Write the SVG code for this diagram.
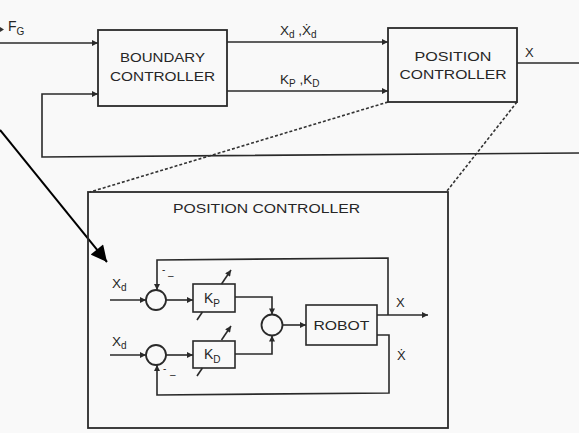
<svg xmlns="http://www.w3.org/2000/svg" width="579" height="433" viewBox="0 0 579 433">
<style>
.ln{fill:none;stroke:#2a2a2a;stroke-width:1.6}
.bx{fill:#f9f9f9;stroke:#2a2a2a;stroke-width:1.8}
.ds{fill:none;stroke:#333;stroke-width:1.6;stroke-dasharray:3 2}
.t{font-family:"Liberation Sans","DejaVu Sans",sans-serif;fill:#262626}
.bt{font-size:13px;text-anchor:middle}
.sub{font-size:10px}
</style>
<defs>
<marker id="a" viewBox="0 0 10 10" refX="10" refY="5" markerWidth="7" markerHeight="6" markerUnits="userSpaceOnUse" orient="auto"><path d="M0,0 L10,5 L0,10 z" fill="#2a2a2a"/></marker>
<marker id="big" viewBox="0 0 10 10" refX="10" refY="5" markerWidth="20" markerHeight="16" markerUnits="userSpaceOnUse" orient="auto"><path d="M0,0 L10,5 L0,10 z" fill="#000"/></marker>
</defs>
<rect x="0" y="0" width="579" height="433" fill="#f9f9f9"/>

<g id="connectors">
<polygon points="0,27 4,29.5 0,32" fill="#333"/>
<path class="ln" d="M0,43 H98" marker-end="url(#a)"/>
<path class="ln" d="M579,153 L42,157 V94 H98" marker-end="url(#a)"/>
<path class="ln" d="M227,42 H388" marker-end="url(#a)"/>
<path class="ln" d="M227,91 H388" marker-end="url(#a)"/>
<path class="ln" d="M517,63 H579"/>
<path class="ds" d="M388,102 L90,192"/>
<path class="ds" d="M517,102 L447,191"/>
<path d="M0,130 L107,262" fill="none" stroke="#000" stroke-width="2" marker-end="url(#big)"/>

<path class="ln" d="M110,300 H146" marker-end="url(#a)"/>
<path class="ln" d="M166,300 H193" marker-end="url(#a)"/>
<path class="ln" d="M235,297 H272 V314.5" marker-end="url(#a)"/>
<path class="ln" d="M110,355 H146" marker-end="url(#a)"/>
<path class="ln" d="M166,355 H193" marker-end="url(#a)"/>
<path class="ln" d="M235,354 H272 V335.5" marker-end="url(#a)"/>
<path class="ln" d="M282.5,325 H306" marker-end="url(#a)"/>
<path class="ln" d="M377,315 H428" marker-end="url(#a)"/>
<path class="ln" d="M388,315 V258 L157,260 V290" marker-end="url(#a)"/>
<path class="ln" d="M377,335 H389 V393 L157,395 V365" marker-end="url(#a)"/>
</g>

<g id="boundary-controller">
<rect class="bx" x="98" y="30" width="129" height="76"/>
<text class="t bt" x="162.5" y="62" textLength="85" lengthAdjust="spacingAndGlyphs">BOUNDARY</text>
<text class="t bt" x="162.5" y="81" textLength="105" lengthAdjust="spacingAndGlyphs">CONTROLLER</text>
</g>

<g id="position-controller">
<rect class="bx" x="388" y="28" width="129" height="74"/>
<text class="t bt" x="453" y="61" textLength="77" lengthAdjust="spacingAndGlyphs">POSITION</text>
<text class="t bt" x="453" y="79" textLength="107" lengthAdjust="spacingAndGlyphs">CONTROLLER</text>
</g>

<g id="labels-top">
<text class="t" font-size="14" x="8" y="31">F<tspan class="sub" dy="4">G</tspan></text>
<text class="t" font-size="13.5" x="280" y="35">X<tspan class="sub" dy="3">d</tspan><tspan dy="-3"> ,Ẋ</tspan><tspan class="sub" dy="3">d</tspan></text>
<text class="t" font-size="13.5" x="280" y="84">K<tspan class="sub" dy="3">P</tspan><tspan dy="-3"> ,K</tspan><tspan class="sub" dy="3">D</tspan></text>
<text class="t" font-size="13" x="525" y="57">X</text>
</g>

<g id="position-controller-detail">
<rect x="88" y="192" width="360" height="236" fill="none" stroke="#2a2a2a" stroke-width="1.8"/>
<text class="t" font-size="12" x="173" y="213" textLength="187" lengthAdjust="spacingAndGlyphs">POSITION CONTROLLER</text>
</g>

<g id="sum1">
<circle cx="156" cy="300" r="10" fill="none" stroke="#2a2a2a" stroke-width="1.8"/>
<text class="t" font-size="10"><tspan x="162" y="273">-</tspan><tspan x="168" y="279">–</tspan></text>
</g>
<g id="sum2">
<circle cx="272" cy="325" r="10.5" fill="none" stroke="#2a2a2a" stroke-width="1.8"/>
</g>
<g id="sum3">
<circle cx="156" cy="355" r="10" fill="none" stroke="#2a2a2a" stroke-width="1.8"/>
<text class="t" font-size="10"><tspan x="163" y="372">-</tspan><tspan x="170" y="378">–</tspan></text>
</g>

<g id="kp">
<rect x="193" y="284" width="42" height="28" fill="none" stroke="#2a2a2a" stroke-width="1.6"/>
<text class="t" font-size="14" x="204" y="303">K<tspan class="sub" dy="4">P</tspan></text>
<path class="ln" d="M197,320 L202.4,312"/>
<path class="ln" d="M221.5,284 L231,270" marker-end="url(#a)"/>
</g>
<g id="kd">
<rect x="193" y="341" width="42" height="27" fill="none" stroke="#2a2a2a" stroke-width="1.6"/>
<text class="t" font-size="14" x="204" y="359">K<tspan class="sub" dy="4">D</tspan></text>
<path class="ln" d="M197,376 L202.4,368"/>
<path class="ln" d="M221.5,340 L231,326" marker-end="url(#a)"/>
</g>
<g id="robot">
<rect x="306" y="305" width="71" height="40" fill="none" stroke="#2a2a2a" stroke-width="1.6"/>
<text class="t bt" font-size="13" x="341.5" y="330" textLength="56" lengthAdjust="spacingAndGlyphs">ROBOT</text>
</g>

<g id="labels-inner">
<text class="t" font-size="13.5" x="112" y="288">X<tspan class="sub" dy="3">d</tspan></text>
<text class="t" font-size="13.5" x="112" y="346">X<tspan class="sub" dy="3">d</tspan></text>
<text class="t" font-size="13" x="396" y="307">X</text>
<text class="t" font-size="13" x="397" y="360">Ẋ</text>
</g>
</svg>
